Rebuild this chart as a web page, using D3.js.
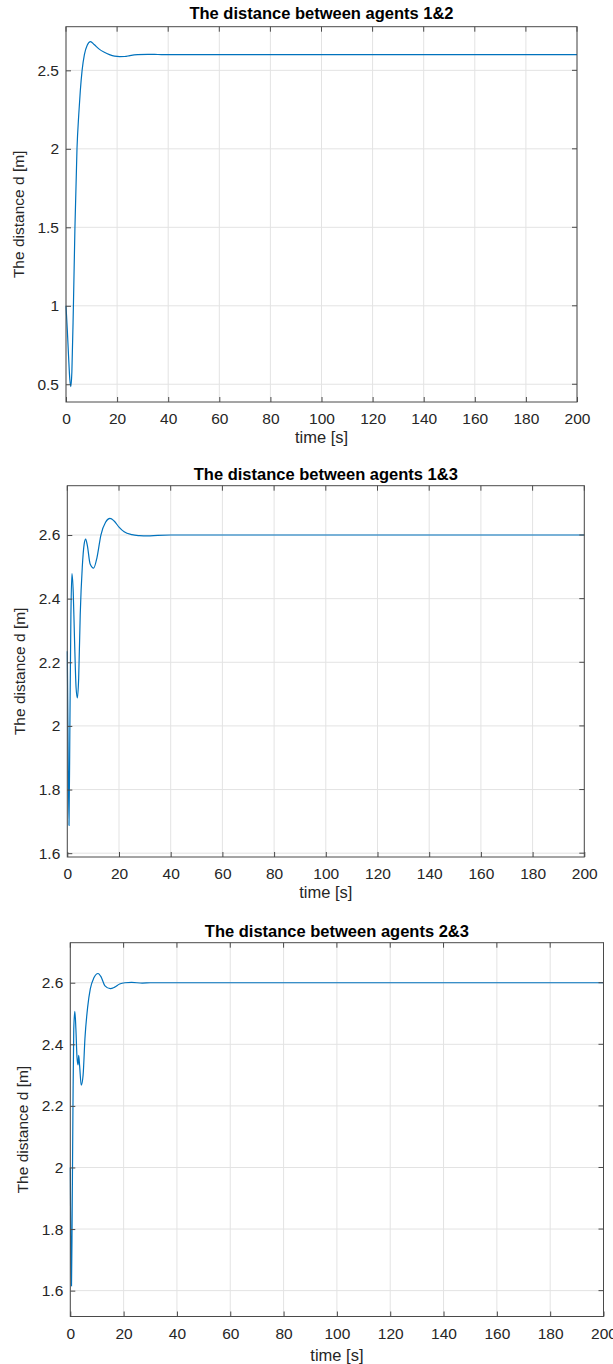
<!DOCTYPE html>
<html>
<head>
<meta charset="utf-8">
<script src="https://cdn.jsdelivr.net/npm/d3@7"></script>
<style>
  html, body { margin: 0; padding: 0; background: #fff; }
  svg { display: block; font-family: "Liberation Sans", Arial, sans-serif; }
</style>
</head>
<body>
<svg id="fig" width="613" height="1364"></svg>
<script>
// Inter-agent distance histories (time in seconds, distance in metres)
const titles = [
  "The distance between agents 1&2",
  "The distance between agents 1&3",
  "The distance between agents 2&3"
];
const xLabel = "time [s]";
const yLabel = "The distance d [m]";
const xTicks = [0, 20, 40, 60, 80, 100, 120, 140, 160, 180, 200];
const yTicks12 = [0.5, 1, 1.5, 2, 2.5];
const yTicks13 = [1.6, 1.8, 2, 2.2, 2.4, 2.6];
const yTicks23 = [1.6, 1.8, 2, 2.2, 2.4, 2.6];

const time12 = [0, 0.5, 1.0, 1.5, 1.9, 2.3, 2.9, 3.5, 4.3, 5.0, 5.6, 6.3, 7.2, 8.3, 9.6, 11, 13, 15, 17, 19, 21, 23, 25, 28, 32, 36, 40, 200];
const dist12 = [1.00, 0.85, 0.68, 0.53, 0.485, 0.58, 1.0, 1.5, 2.0, 2.22, 2.37, 2.5, 2.6, 2.66, 2.683, 2.665, 2.635, 2.615, 2.600, 2.590, 2.587, 2.588, 2.594, 2.600, 2.602, 2.601, 2.600, 2.600];

const time13 = [0, 0.3, 0.66, 1.0, 1.4, 1.8, 2.3, 2.8, 3.4, 3.9, 4.4, 5.0, 5.8, 6.5, 7.1, 7.8, 8.8, 10.2, 11.5, 13, 14.8, 16.5, 18, 20, 22, 25, 28, 31, 35, 40, 200];
const dist13 = [2.235, 1.95, 1.687, 2.0, 2.35, 2.479, 2.42, 2.27, 2.12, 2.088, 2.15, 2.35, 2.50, 2.57, 2.587, 2.565, 2.51, 2.496, 2.53, 2.60, 2.64, 2.652, 2.645, 2.625, 2.61, 2.601, 2.598, 2.597, 2.599, 2.600, 2.600];

const time23 = [0, 0.2, 0.45, 0.7, 1.0, 1.3, 1.7, 2.1, 2.5, 2.9, 3.15, 3.5, 4.1, 4.8, 5.5, 6.5, 7.5, 8.8, 10.4, 11.5, 13, 15, 16.5, 18.5, 20.5, 23, 27, 30, 200];
const dist23 = [2.0, 1.75, 1.615, 1.85, 2.2, 2.45, 2.507, 2.45, 2.36, 2.333, 2.364, 2.33, 2.267, 2.30, 2.42, 2.52, 2.58, 2.615, 2.63, 2.62, 2.59, 2.581, 2.585, 2.596, 2.600, 2.601, 2.599, 2.600, 2.600];

// Plot-box geometry for the three stacked panels
const panels = [
  { left: 66,   right: 577,   top: 26.7,  bottom: 402,    yMin: 0.387, yMax: 2.778, titleY: 19,  xLabelY: 443,
    time: time12, dist: dist12, yTicks: yTicks12, title: titles[0] },
  { left: 67.3, right: 584.3, top: 485.7, bottom: 857,    yMin: 1.588, yMax: 2.755, titleY: 480, xLabelY: 898,
    time: time13, dist: dist13, yTicks: yTicks13, title: titles[1] },
  { left: 70.3, right: 603.5, top: 942.7, bottom: 1316.5, yMin: 1.516, yMax: 2.730, titleY: 937, xLabelY: 1361,
    time: time23, dist: dist23, yTicks: yTicks23, title: titles[2] }
];

const svg = d3.select("#fig");
const textColor = "#262626";
const boxColor = "#4a4a4a";
const gridColor = "#e3e3e3";
const lineColor = "#0072BD";
const tickLen = 5;

panels.forEach(p => {
  const x = d3.scaleLinear().domain([0, 200]).range([p.left, p.right]);
  const y = d3.scaleLinear().domain([p.yMin, p.yMax]).range([p.bottom, p.top]);
  const g = svg.append("g");

  // grid
  g.append("g").selectAll("line").data(xTicks).join("line")
    .attr("x1", d => x(d)).attr("x2", d => x(d))
    .attr("y1", p.top).attr("y2", p.bottom)
    .attr("stroke", gridColor).attr("stroke-width", 1);
  g.append("g").selectAll("line").data(p.yTicks).join("line")
    .attr("x1", p.left).attr("x2", p.right)
    .attr("y1", d => y(d)).attr("y2", d => y(d))
    .attr("stroke", gridColor).attr("stroke-width", 1);

  // data line
  const line = d3.line()
    .x((d, i) => x(p.time[i]))
    .y(d => y(d))
    .curve(d3.curveMonotoneX);
  g.append("path")
    .datum(p.dist)
    .attr("d", line)
    .attr("fill", "none")
    .attr("stroke", lineColor)
    .attr("stroke-width", 1.2);

  // axes with inward ticks
  const xAxis = g.append("g")
    .attr("transform", `translate(0,${p.bottom})`)
    .call(d3.axisBottom(x).tickValues(xTicks).tickFormat(d3.format("d"))
      .tickSize(-tickLen).tickSizeOuter(0).tickPadding(11));
  const yAxis = g.append("g")
    .attr("transform", `translate(${p.left},0)`)
    .call(d3.axisLeft(y).tickValues(p.yTicks).tickFormat(d => String(d))
      .tickSize(-tickLen).tickSizeOuter(0).tickPadding(7));
  [xAxis, yAxis].forEach(a => {
    a.select(".domain").remove();
    a.selectAll(".tick line").attr("stroke", boxColor);
    a.selectAll(".tick text")
      .attr("fill", textColor)
      .style("font-size", "15.5px");
  });

  // mirrored ticks on top and right edges
  g.append("g").selectAll("line").data(xTicks).join("line")
    .attr("x1", d => x(d)).attr("x2", d => x(d))
    .attr("y1", p.top).attr("y2", p.top + tickLen)
    .attr("stroke", boxColor);
  g.append("g").selectAll("line").data(p.yTicks).join("line")
    .attr("x1", p.right).attr("x2", p.right - tickLen)
    .attr("y1", d => y(d)).attr("y2", d => y(d))
    .attr("stroke", boxColor);

  // box
  g.append("rect")
    .attr("x", p.left).attr("y", p.top)
    .attr("width", p.right - p.left).attr("height", p.bottom - p.top)
    .attr("fill", "none").attr("stroke", boxColor).attr("stroke-width", 1);

  // title and axis labels
  g.append("text")
    .attr("x", (p.left + p.right) / 2).attr("y", p.titleY)
    .attr("text-anchor", "middle")
    .attr("font-weight", "bold")
    .style("font-size", "16.5px")
    .attr("fill", "#000")
    .text(p.title);
  g.append("text")
    .attr("x", (p.left + p.right) / 2).attr("y", p.xLabelY)
    .attr("text-anchor", "middle")
    .style("font-size", "16.5px")
    .attr("fill", textColor)
    .text(xLabel);
  g.append("text")
    .attr("transform", `translate(${p.left - 42},${(p.top + p.bottom) / 2}) rotate(-90)`)
    .attr("text-anchor", "middle")
    .style("font-size", "15.5px")
    .attr("fill", textColor)
    .text(yLabel);
});
</script>
</body>
</html>
